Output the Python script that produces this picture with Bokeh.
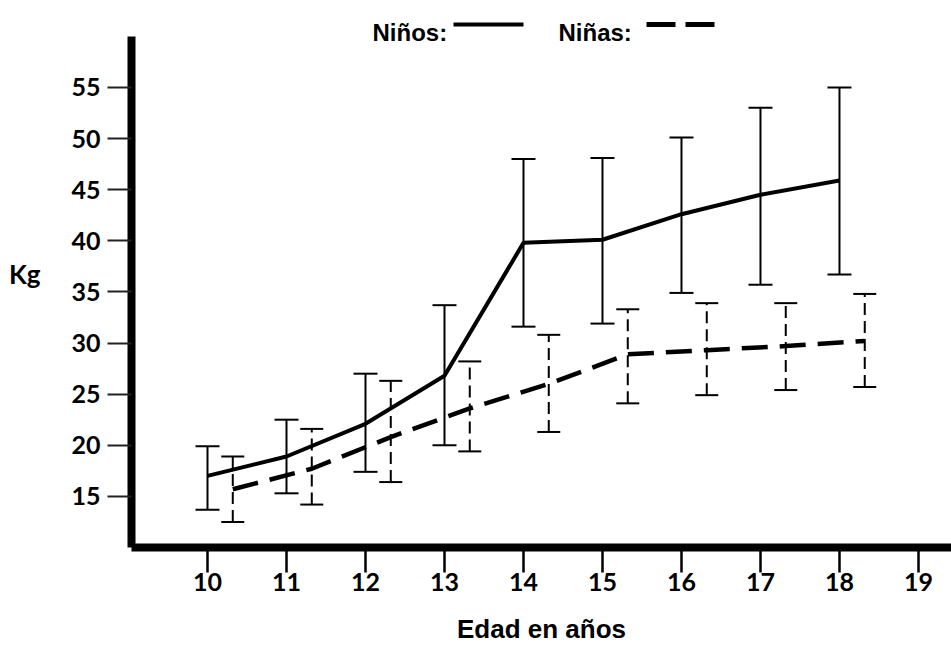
from bokeh.plotting import figure
from bokeh.models import (ColumnDataSource, Whisker, TeeHead, FixedTicker, Label,
                          Arrow, Range1d)
from bokeh.transform import dodge
from bokeh.embed import file_html
from bokeh.resources import INLINE

# ---- data ----
ages = [10, 11, 12, 13, 14, 15, 16, 17, 18]
boys_mean = [17.0, 18.9, 22.1, 26.8, 39.8, 40.1, 42.6, 44.5, 45.9]
boys_upper = [19.9, 22.5, 27.0, 33.7, 48.0, 48.1, 50.1, 53.0, 55.0]
boys_lower = [13.7, 15.3, 17.4, 20.0, 31.6, 31.9, 34.9, 35.7, 36.7]
girls_mean = [15.7, 17.7, 20.8, 23.6, 26.0, 28.9, 29.3, 29.7, 30.2]
girls_upper = [18.9, 21.6, 26.3, 28.2, 30.8, 33.3, 33.9, 33.9, 34.8]
girls_lower = [12.5, 14.2, 16.4, 19.4, 21.3, 24.1, 24.9, 25.4, 25.7]
x_ticks = [10, 11, 12, 13, 14, 15, 16, 17, 18, 19]
y_ticks = [15, 20, 25, 30, 35, 40, 45, 50, 55]

src = ColumnDataSource(dict(age=ages,
                            boys_mean=boys_mean, boys_upper=boys_upper, boys_lower=boys_lower,
                            girls_mean=girls_mean, girls_upper=girls_upper, girls_lower=girls_lower))

TICK_FONT = "Lato"
GIRL_SHIFT = 0.32

p = figure(width=951, height=650, output_backend="svg", toolbar_location=None,
           x_range=Range1d(9.038, 19.418), y_range=Range1d(10.0, 63.50),
           min_border_left=131, min_border_right=0, min_border_top=0, min_border_bottom=103)
p.outline_line_color = None
p.background_fill_color = "white"
p.border_fill_color = "white"
p.xgrid.visible = False
p.ygrid.visible = False

# y axis
p.yaxis.ticker = FixedTicker(ticks=y_ticks)
p.yaxis.bounds = (9.61, 60)
p.yaxis.axis_line_width = 8
p.yaxis.axis_line_color = "black"
p.yaxis.major_tick_out = 24
p.yaxis.major_tick_in = 0
p.yaxis.major_tick_line_width = 2
p.yaxis.major_tick_line_color = "#222222"
p.yaxis.minor_tick_line_color = None
p.yaxis.major_label_standoff = 7
p.yaxis.major_label_text_font = TICK_FONT
p.yaxis.major_label_text_font_style = "bold"
p.yaxis.major_label_text_font_size = "25px"
p.yaxis.major_label_text_color = "black"
p.yaxis.axis_label = "Kg"
p.yaxis.axis_label_orientation = "horizontal"
p.yaxis.axis_label_standoff = 28
p.yaxis.axis_label_text_font = TICK_FONT
p.yaxis.axis_label_text_font_style = "bold"
p.yaxis.axis_label_text_font_size = "26px"
p.yaxis.axis_label_text_color = "black"

# x axis
p.xaxis.ticker = FixedTicker(ticks=x_ticks)
p.xaxis.axis_line_width = 8
p.xaxis.axis_line_color = "black"
p.xaxis.major_tick_out = 25
p.xaxis.major_tick_in = 0
p.xaxis.major_tick_line_width = 2.5
p.xaxis.major_tick_line_color = "black"
p.xaxis.minor_tick_line_color = None
p.xaxis.major_label_standoff = 0
p.xaxis.major_label_text_font = TICK_FONT
p.xaxis.major_label_text_font_style = "bold"
p.xaxis.major_label_text_font_size = "25px"
p.xaxis.major_label_text_color = "black"
p.xaxis.axis_label = "Edad en años"
p.xaxis.axis_label_standoff = 20
p.xaxis.axis_label_text_font = "Liberation Sans"
p.xaxis.axis_label_text_font_style = "bold"
p.xaxis.axis_label_text_font_size = "26px"
p.xaxis.axis_label_text_color = "black"

# error bars
p.add_layout(Whisker(source=src, base="age", upper="boys_upper", lower="boys_lower",
                     dimension="height", line_width=2, line_color="black",
                     upper_head=TeeHead(size=24, line_width=2, line_color="black"),
                     lower_head=TeeHead(size=24, line_width=2, line_color="black")))
p.add_layout(Whisker(source=src, base=dodge("age", GIRL_SHIFT), upper="girls_upper",
                     lower="girls_lower", dimension="height", line_width=2,
                     line_color="black", line_dash="12 6",
                     upper_head=TeeHead(size=23, line_width=2, line_color="black"),
                     lower_head=TeeHead(size=23, line_width=2, line_color="black")))

# mean lines
p.line(x="age", y="boys_mean", source=src, line_width=4, line_color="black")
p.line(x=dodge("age", GIRL_SHIFT), y="girls_mean", source=src, line_width=4.5,
       line_color="black", line_dash="26 12")

# legend (text first, then line sample)
p.add_layout(Label(x=241, y=515, x_units="screen", y_units="screen", text="Niños:",
                   text_font="Liberation Sans", text_font_style="bold", text_color="black",
                   text_font_size="24px", text_baseline="alphabetic", text_align="left"))
p.add_layout(Arrow(x_start=322, y_start=523, x_end=392, y_end=523,
                   start_units="screen", end_units="screen", end=None,
                   line_width=4, line_color="black"))
p.add_layout(Label(x=427, y=515, x_units="screen", y_units="screen", text="Niñas:",
                   text_font="Liberation Sans", text_font_style="bold", text_color="black",
                   text_font_size="24px", text_baseline="alphabetic", text_align="left"))
p.add_layout(Arrow(x_start=515, y_start=523, x_end=584, y_end=523,
                   start_units="screen", end_units="screen", end=None,
                   line_width=5, line_color="black", line_dash="29 10"))

open("out.html", "w").write(file_html(p, INLINE))
